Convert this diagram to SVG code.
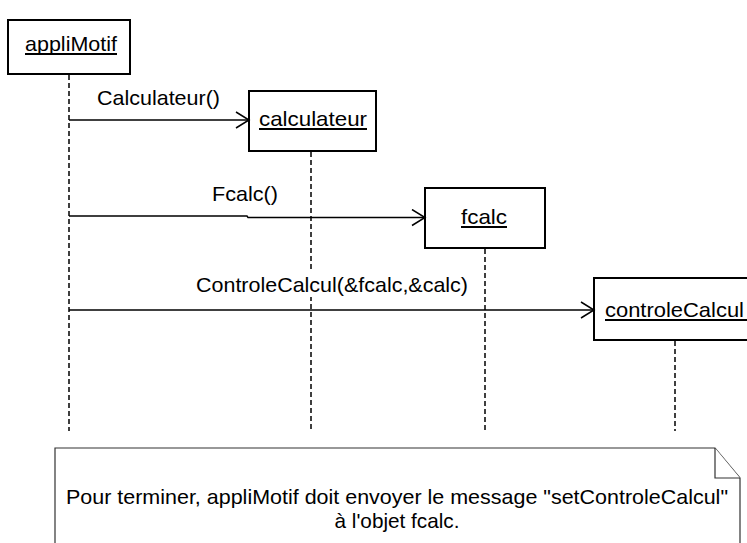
<svg xmlns="http://www.w3.org/2000/svg" width="747" height="543" viewBox="0 0 747 543">
  <style>
    .obj { fill: #ffffff; stroke: #000000; stroke-width: 2; }
    .lbl { font-family: "Liberation Sans", Arial, sans-serif; font-size: 21px; fill: #000000; }
    .uline { stroke: #000000; stroke-width: 2; }
    .life { stroke: #000000; stroke-width: 1.5; stroke-dasharray: 5 3; fill: none; }
    .msg { stroke: #000000; stroke-width: 1.4; fill: none; marker-end: url(#open); }
    .note { fill: #ffffff; stroke: #333333; stroke-width: 1.2; }
  </style>
  <defs>
    <marker id="open" markerUnits="userSpaceOnUse" markerWidth="16" markerHeight="20" refX="14" refY="9" orient="auto">
      <path d="M1,1 L14,9 L1,17" fill="none" stroke="#000000" stroke-width="1.5"/>
    </marker>
  </defs>

  <rect width="747" height="543" fill="#ffffff"/>

  <!-- lifelines -->
  <g id="lifelines">
    <line class="life" x1="69" y1="75" x2="69" y2="431"/>
    <line class="life" x1="311" y1="152" x2="311" y2="431"/>
    <line class="life" x1="485" y1="249" x2="485" y2="431"/>
    <line class="life" x1="675" y1="341" x2="675" y2="431"/>
  </g>

  <!-- objects -->
  <g id="appliMotif">
    <rect class="obj" x="8" y="20" width="122" height="54"/>
    <text class="lbl" x="25" y="51" textLength="92" lengthAdjust="spacingAndGlyphs">appliMotif</text>
    <line class="uline" x1="25" y1="54" x2="117" y2="54"/>
  </g>
  <g id="calculateur">
    <rect class="obj" x="249" y="91" width="127" height="60"/>
    <text class="lbl" x="259" y="126" textLength="108" lengthAdjust="spacingAndGlyphs">calculateur</text>
    <line class="uline" x1="259" y1="129" x2="367" y2="129"/>
  </g>
  <g id="fcalc">
    <rect class="obj" x="425" y="188" width="120" height="60"/>
    <text class="lbl" x="461" y="224" textLength="46" lengthAdjust="spacingAndGlyphs">fcalc</text>
    <line class="uline" x1="461" y1="227" x2="507" y2="227"/>
  </g>
  <g id="controleCalcul">
    <rect class="obj" x="594" y="278" width="170" height="62"/>
    <text class="lbl" x="605" y="317" textLength="139" lengthAdjust="spacingAndGlyphs">controleCalcul</text>
    <line class="uline" x1="605" y1="320" x2="747" y2="320"/>
  </g>

  <!-- messages -->
  <g id="connectors">
    <line class="msg" x1="69" y1="120" x2="249" y2="120"/>
    <text class="lbl" x="97" y="105" textLength="123" lengthAdjust="spacingAndGlyphs">Calculateur()</text>

    <polyline class="msg" points="69,216 247,216 248,217.5 425,217.5"/>
    <text class="lbl" x="212" y="201" textLength="66" lengthAdjust="spacingAndGlyphs">Fcalc()</text>

    <line class="msg" x1="69" y1="310" x2="594" y2="310"/>
    <rect x="194" y="272" width="278" height="25" fill="#ffffff"/>
    <text class="lbl" x="196" y="292" textLength="272" lengthAdjust="spacingAndGlyphs">ControleCalcul(&amp;fcalc,&amp;calc)</text>
  </g>

  <!-- note -->
  <g id="note">
    <path class="note" d="M55,560 V448 H715 L740,478 V560"/>
    <path class="note" fill="none" d="M715,448 V478 H740"/>
    <text class="lbl" x="397" y="504" text-anchor="middle" textLength="662" lengthAdjust="spacingAndGlyphs">Pour terminer, appliMotif doit envoyer le message "setControleCalcul"</text>
    <text class="lbl" x="397" y="528" text-anchor="middle" textLength="125" lengthAdjust="spacingAndGlyphs">à l'objet fcalc.</text>
  </g>
</svg>
